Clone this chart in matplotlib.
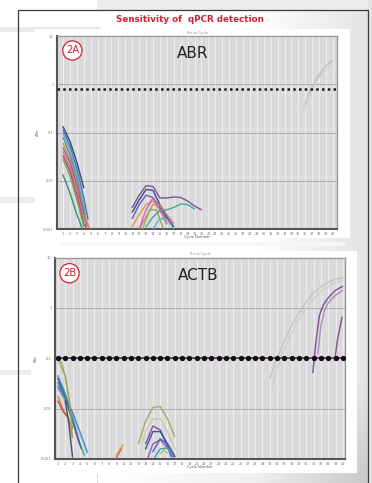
import numpy as np
import matplotlib.pyplot as plt
from matplotlib.patches import Rectangle

W, H = 372, 483

# x axis: PCR cycle numbers, y axis: log Delta Rn
cycles = list(range(1, 41))
ytick_vals = [0.001, 0.01, 0.1, 1, 10]
ytick_text = ["0.001", "0.01", "0.1", "1", "10"]

abr_threshold = 0.81
actb_threshold = 0.1

# ---- ABR (panel 2A) ----
abr_early_x = [[1, 2, 3, 4], [1, 2, 3, 4, 4.6], [1, 2, 3, 4, 4.4], [1, 2, 3, 4, 4.3],
               [1, 2, 3, 4, 4.7], [1, 2, 3, 4], [1, 2, 3, 4, 4.8], [1, 2, 3, 4, 4.5],
               [1, 2, 3, 4], [1, 2, 3, 3.8]]
abr_early_y = [[0.132, 0.066, 0.024, 0.0071], [0.112, 0.052, 0.0178, 0.0045, 0.0016],
               [0.095, 0.045, 0.0141, 0.0035, 0.00126], [0.079, 0.035, 0.0112, 0.0025, 0.00112],
               [0.060, 0.028, 0.0089, 0.0022, 0.00112], [0.048, 0.024, 0.0079, 0.0020],
               [0.040, 0.019, 0.0063, 0.0016, 0.00105], [0.033, 0.0158, 0.0050, 0.00126, 0.001],
               [0.028, 0.0126, 0.0040, 0.00112], [0.0132, 0.0056, 0.0020, 0.0010]]
abr_early_colors = ['#2e3d78', '#4a6aa8', '#6aa6d0', '#3a9a9a', '#d98a3a',
                    '#8a5aa8', '#d070a0', '#c84040', '#70a860', '#2a8a7a']

abr_mid_x = [list(range(11, 22)), list(range(11, 18)), list(range(11, 17)), list(range(11, 17)),
             list(range(12, 18)), [12, 13, 14, 15, 16], [12.5, 13.5, 14.5, 15.5],
             list(range(13, 21)), [14, 15, 16, 17]]
abr_mid_y = [[0.0028, 0.0050, 0.0079, 0.0076, 0.0044, 0.0044, 0.0046, 0.0045, 0.0038, 0.0030, 0.0025],
             [0.00224, 0.0040, 0.0066, 0.0063, 0.0032, 0.00178, 0.00112],
             [0.00166, 0.0032, 0.0050, 0.0045, 0.0028, 0.00158],
             [0.00112, 0.0020, 0.0032, 0.0038, 0.0025, 0.00132],
             [0.0010, 0.00178, 0.0032, 0.0032, 0.0020, 0.00132],
             [0.0010, 0.0025, 0.0044, 0.0025, 0.00126],
             [0.0010, 0.0025, 0.0025, 0.0010],
             [0.00112, 0.00178, 0.0024, 0.0025, 0.0028, 0.0033, 0.0032, 0.0026],
             [0.0010, 0.00166, 0.00158, 0.0010]]
abr_mid_colors = ['#7a4a9a', '#3a3f8a', '#6a5ab0', '#d9963a', '#e08070',
                  '#d060b0', '#88b050', '#40a0a0', '#60b0d0']

abr_late_x = [[36, 37, 38, 39, 40], [35.8, 36.5, 37.5, 38.5, 39.8]]
abr_late_y = [[0.40, 0.89, 1.58, 2.4, 3.16], [0.30, 0.55, 1.1, 1.7, 2.5]]
abr_late_colors = ['#bdbdbd', '#d8d0c0']

# ---- ACTB (panel 2B) ----
actb_early_x = [[1, 2, 2.6, 3.0], [1, 2, 3, 4.2], [1, 2, 3, 4, 5], [1, 2, 3, 4, 5],
                [1, 2, 3, 4, 4.6], [1, 2, 3, 4], [1, 1.8, 2.5, 3], [1, 1.7, 2.2],
                [2, 2.5, 3], [1, 1.5, 2, 2.5, 3]]
actb_early_y = [[0.091, 0.045, 0.0118, 0.0026], [0.040, 0.018, 0.0059, 0.0016],
                [0.033, 0.0178, 0.0083, 0.0035, 0.0014], [0.025, 0.0141, 0.0071, 0.0032, 0.00132],
                [0.045, 0.020, 0.0063, 0.0020, 0.0012], [0.028, 0.0158, 0.0056, 0.0019],
                [0.0178, 0.0089, 0.0063, 0.0028], [0.0141, 0.0089, 0.0071],
                [0.0141, 0.0050, 0.0011], [0.10, 0.079, 0.045, 0.0158, 0.0040]]
actb_early_colors = ['#9ac080', '#2a3a70', '#3a70b0', '#7ab0d8', '#3a9aa0',
                     '#5060a0', '#d08040', '#c04a3a', '#404850', '#a0a060']

actb_mid_x = [[9.0, 9.4, 9.9], [8.9, 9.3, 9.7], list(range(12, 18)), [12.5, 13, 14, 15, 16, 17],
              [13, 14, 15, 16, 16.5], [13, 14, 15, 16, 17], [13.3, 14, 15, 16, 16.8],
              [14, 15, 16, 17], [14.2, 15, 16, 16.8], [15, 15.5, 16]]
actb_mid_y = [[0.0012, 0.0015, 0.0019], [0.0010, 0.00126, 0.0016],
              [0.0020, 0.0056, 0.0105, 0.0110, 0.0063, 0.0028],
              [0.0020, 0.0035, 0.0063, 0.0063, 0.0035, 0.00158],
              [0.0020, 0.0045, 0.0038, 0.00178, 0.00112],
              [0.00158, 0.0035, 0.0035, 0.0020, 0.00112],
              [0.00105, 0.0020, 0.0024, 0.00166, 0.00105],
              [0.0014, 0.0025, 0.0020, 0.00112],
              [0.00105, 0.00158, 0.00166, 0.00112],
              [0.00126, 0.00151, 0.00132]]
actb_mid_colors = ['#e0a040', '#d06040', '#98b060', '#d0c8a8', '#7a4aa0',
                   '#3a4a90', '#8a5ab8', '#4060b0', '#40a0a8', '#a8c070']

actb_late_x = [list(range(30, 41)), [30.3] + list(range(31, 41)),
               [35.9, 36.3, 36.8, 37.3, 38, 39, 40], [36.6, 37, 37.5, 38, 39, 40],
               [38.9, 39.3, 39.9]]
actb_late_y = [[0.040, 0.10, 0.224, 0.45, 0.79, 1.32, 2.0, 2.63, 3.24, 3.72, 3.98],
               [0.028, 0.063, 0.158, 0.316, 0.60, 1.0, 1.51, 2.09, 2.63, 3.16, 3.55],
               [0.052, 0.20, 0.71, 1.12, 1.58, 2.24, 2.69],
               [0.126, 0.45, 0.89, 1.26, 1.78, 2.24],
               [0.091, 0.25, 0.66]]
actb_late_colors = ['#c8c0c0', '#d4cccc', '#7a4a8a', '#a888b8', '#7a4a8a']


fig = plt.figure(figsize=(W / 100, H / 100), dpi=100)
fig.patch.set_facecolor('white')

# page background drawn in pixel coordinates
bg = fig.add_axes([0, 0, 1, 1])
bg.set_xlim(0, W)
bg.set_ylim(H, 0)
bg.axis('off')
yy, xx = np.mgrid[0:H, 0:W]
shade = np.clip((xx - 250) / 120, 0, 1) * 0.11 + np.clip((yy - 380) / 110, 0, 1) * np.clip((xx - 90) / 280, 0, 1) * 0.12
bg.imshow(1 - shade, cmap='gray', vmin=0, vmax=1, extent=(0, W, H, 0), aspect='auto')
bg.add_patch(Rectangle((97, 0), W - 97, 10, color='#ececec', lw=0))
bg.add_patch(Rectangle((0, 27), 100, 5, color='#e9e9e9', lw=0))
bg.add_patch(Rectangle((0, 197), 35, 6, color='#ededed', lw=0))
bg.add_patch(Rectangle((0, 370), 31, 5, color='#ededed', lw=0))
bg.add_patch(Rectangle((368, 0), 4, H, color='#e4e4e4', lw=0))
bg.add_patch(Rectangle((35, 29), 315, 209, color='white', lw=0))
bg.add_patch(Rectangle((31, 251), 326, 222, color='white', lw=0))
bg.add_patch(Rectangle((60, 242), 285, 4, color='#f6f6f6', lw=0))
bg.add_patch(Rectangle((18, 10), 350, 490, fill=False, ec='#3a3a3a', lw=0.9))
bg.plot([97, 97], [474, H], color='#d0d0d0', lw=0.6)

fig.text(190 / W, 1 - 20 / H, 'Sensitivity of  qPCR detection', color='#d42030',
         fontsize=6.3, fontweight='bold', ha='center', va='center')


def draw_panel(rect, xlim, groups):
    ax = fig.add_axes(rect)
    ax.set_facecolor('#dadadc')
    ax.set_yscale('log')
    ax.set_ylim(0.001, 10)
    ax.set_xlim(*xlim)
    for c in cycles:
        ax.axvline(c, color='#ededed', lw=0.9, zorder=0)
    for v in ytick_vals[1:-1]:
        ax.axhline(v, color='#a4a4a4', lw=0.6, zorder=1)
    for xs_list, ys_list, cols in groups:
        for xs, ys, col in zip(xs_list, ys_list, cols):
            ax.plot(xs, ys, color=col, lw=1.05, alpha=0.92, zorder=3,
                    solid_capstyle='round', solid_joinstyle='round')
    ax.set_xticks(cycles)
    ax.set_xticklabels([str(c) for c in cycles], fontsize=2.4, color='#666')
    ax.set_yticks(ytick_vals)
    ax.set_yticklabels(ytick_text, fontsize=2.6, color='#777')
    ax.minorticks_off()
    ax.tick_params(length=0, pad=2.5)
    for s in ['left', 'bottom']:
        ax.spines[s].set_color('#555')
        ax.spines[s].set_linewidth(1.5)
    for s in ['top', 'right']:
        ax.spines[s].set_color('#999')
        ax.spines[s].set_linewidth(1.0)
    ax.set_xlabel('Cycle Number', fontsize=2.6, color='#555', labelpad=-1)
    ax.set_title('Rn vs Cycle', fontsize=2.6, color='#888', pad=1.5)
    ax.set_ylabel('\u0394Rn', fontsize=2.6, color='#666', labelpad=2)
    return ax


def panel_tag(ax, label, pos):
    ax.text(pos[0], pos[1], label, transform=ax.transAxes, color='#d42030', fontsize=7.2,
            ha='center', va='center', zorder=6,
            bbox=dict(boxstyle='circle,pad=0.3', fc='white', ec='#d42030', lw=0.9))


# panel 2A
ax_a = draw_panel([57 / W, 1 - 229 / H, 280 / W, 193 / H], (0.13, 40.58),
                  [(abr_early_x, abr_early_y, abr_early_colors),
                   (abr_mid_x, abr_mid_y, abr_mid_colors),
                   (abr_late_x, abr_late_y, abr_late_colors)])
ax_a.axhline(abr_threshold, color='#1a1a1a', lw=1.8, ls=(0, (1, 1.3)), zorder=4)
panel_tag(ax_a, '2A', (0.055, 0.925))
ax_a.text(0.486, 0.91, 'ABR', transform=ax_a.transAxes, color='#222', fontsize=11,
          ha='center', va='center', zorder=6)

# panel 2B
ax_b = draw_panel([55 / W, 1 - 459 / H, 290 / W, 201.5 / H], (0.6, 40.3),
                  [(actb_early_x, actb_early_y, actb_early_colors),
                   (actb_mid_x, actb_mid_y, actb_mid_colors),
                   (actb_late_x, actb_late_y, actb_late_colors)])
ax_b.plot(cycles, [actb_threshold] * len(cycles), color='#5a3060', lw=1.2,
          marker='o', ms=2.8, mfc='#140c18', mec='#140c18', zorder=4)
panel_tag(ax_b, '2B', (0.05, 0.922))
ax_b.text(0.493, 0.912, 'ACTB', transform=ax_b.transAxes, color='#222', fontsize=11,
          ha='center', va='center', zorder=6)

fig.savefig('out.png', dpi=100)
